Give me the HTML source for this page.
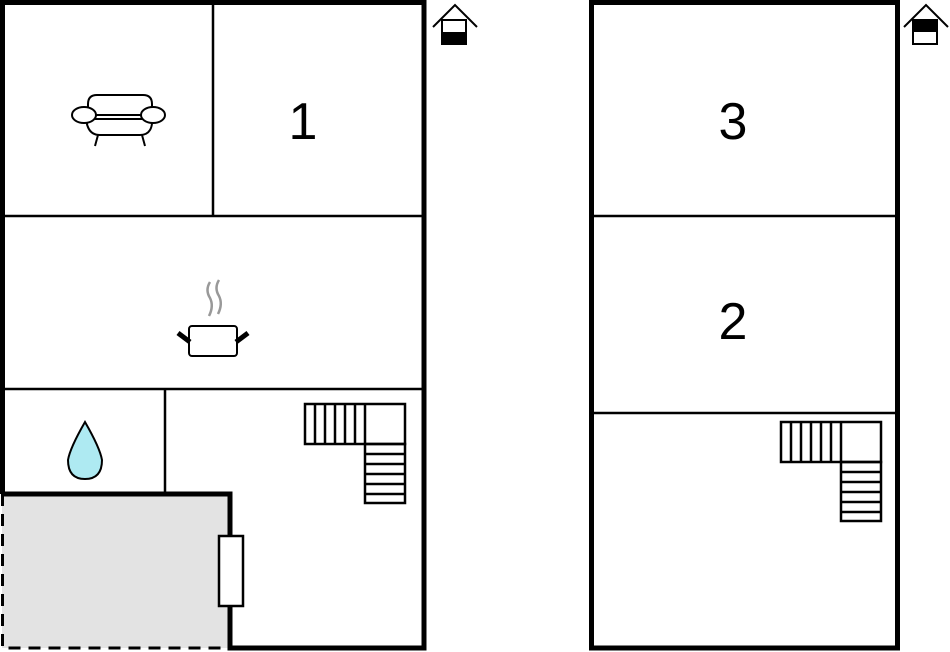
<!DOCTYPE html>
<html><head><style>body{margin:0;background:#fff}svg{display:block}</style></head><body>
<svg width="950" height="652" viewBox="0 0 950 652" xmlns="http://www.w3.org/2000/svg" font-family="Liberation Sans, sans-serif">
<rect x="2" y="494" width="228" height="154" fill="#e3e3e3"/>
<path d="M2.5 494 V648 H230" fill="none" stroke="#000" stroke-width="3" stroke-dasharray="12,8"/>
<path d="M2.5 494 V2.5 H424 V648 H230 V494 H2.5" fill="none" stroke="#000" stroke-width="5"/>
<g stroke="#000" stroke-width="2.5" fill="none">
<line x1="213" y1="3" x2="213" y2="216"/>
<line x1="3" y1="216" x2="423" y2="216"/>
<line x1="3" y1="389" x2="423" y2="389"/>
<line x1="165" y1="389" x2="165" y2="494"/>
</g>
<rect x="219" y="536" width="24" height="70" fill="#fff" stroke="#000" stroke-width="2.5"/>
<rect x="591.5" y="2.5" width="306" height="645.5" fill="none" stroke="#000" stroke-width="5"/>
<g stroke="#000" stroke-width="2.5">
<line x1="592" y1="216" x2="897" y2="216"/>
<line x1="592" y1="413" x2="897" y2="413"/>
</g>
<g fill="none" stroke="#000" stroke-width="2.5">
<rect x="305" y="404" width="100" height="40"/><rect x="365" y="444" width="40" height="59"/>
<path d="M315 404V444M325 404V444M335 404V444M345 404V444M355 404V444M365 404V444"/>
<path d="M365 454H405M365 464H405M365 474H405M365 484H405M365 494H405"/>
<rect x="781" y="422" width="100" height="40"/><rect x="841" y="462" width="40" height="59"/>
<path d="M791 422V462M801 422V462M811 422V462M821 422V462M831 422V462M841 422V462"/>
<path d="M841 472H881M841 482H881M841 492H881M841 502H881M841 512H881"/>
</g>
<g fill="none" stroke="#000" stroke-width="2">
<path d="M433 27L455 5L477 27"/><path d="M904 27L926 5L948 27"/>
</g>
<rect x="442" y="20" width="24" height="24" fill="#fff" stroke="#000" stroke-width="2"/>
<rect x="442" y="32" width="24" height="12" fill="#000"/>
<rect x="913" y="20" width="24" height="24" fill="#fff" stroke="#000" stroke-width="2"/>
<rect x="913" y="20" width="24" height="12" fill="#000"/>
<g font-size="52" text-anchor="middle" fill="#000">
<text x="303" y="139">1</text><text x="733" y="139">3</text><text x="733" y="339">2</text>
</g>
<g fill="#fff" stroke="#000" stroke-width="2">
<path d="M88 118 V104 Q88 95 97 95 H143 Q152 95 152 104 V118 Z"/>
<path d="M86 115 Q86 135 100 135 H140 Q154 135 152 115 Z"/>
<ellipse cx="84" cy="115" rx="12" ry="8"/><ellipse cx="153" cy="115" rx="12" ry="8"/>
<path d="M98 135 L95 146 M142 135 L145 146" fill="none"/>
<line x1="94" y1="119" x2="143" y2="119"/>
</g>
<g fill="none" stroke="#999" stroke-width="2.5">
<path d="M210 282 Q205 290 210 298 Q214 306 209 316"/><path d="M219 280 Q214 288 219 296 Q223 304 218 314"/>
</g>
<rect x="189" y="326" width="48" height="30" rx="3" fill="#fff" stroke="#000" stroke-width="2"/>
<path d="M178 333 L190 342 M248 333 L236 342" stroke="#000" stroke-width="5"/>
<path d="M85 422 Q100 448 102 460 Q102 479 85 479 Q68 479 68 460 Q70 448 85 422Z" fill="#aeeaf2" stroke="#000" stroke-width="2"/>
</svg>
</body></html>
